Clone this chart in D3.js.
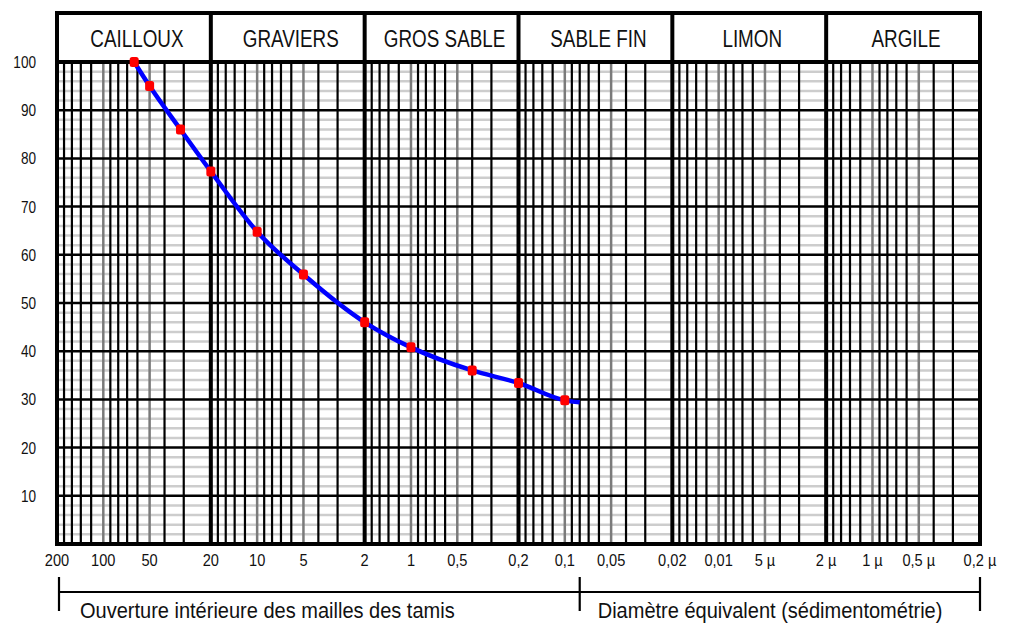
<!DOCTYPE html>
<html>
<head>
<meta charset="utf-8">
<script src="https://cdn.jsdelivr.net/npm/d3@7"></script>
<style>
  body { margin: 0; background: #fff; }
  svg { display: block; }
  text { font-family: "Liberation Sans", Arial, sans-serif; fill: #111; }
</style>
</head>
<body>
<svg id="chart"></svg>
<script>
// soil classes, one per decade of the sieve scale (mm)
const classes = ["CAILLOUX", "GRAVIERS", "GROS SABLE", "SABLE FIN", "LIMON", "ARGILE"];
const classBounds = [200, 20, 2, 0.2, 0.02, 0.002, 0.0002];

// sieve sizes (mm) and passing percentages
const sizes = [63, 50, 31.5, 20, 10, 5, 2, 1, 0.4, 0.2, 0.1];
const passing = [100, 95, 86, 77.3, 64.8, 55.9, 46, 40.8, 36, 33.4, 29.8];
const curveEnd = [0.08, 29.4];

// axis labels
const xTickValues = [200, 100, 50, 20, 10, 5, 2, 1, 0.5, 0.2, 0.1, 0.05, 0.02, 0.01, 0.005, 0.002, 0.001, 0.0005, 0.0002];
const xTickLabels = ["200", "100", "50", "20", "10", "5", "2", "1", "0,5", "0,2", "0,1", "0,05", "0,02", "0,01", "5 µ", "2 µ", "1 µ", "0,5 µ", "0,2 µ"];
const yTickValues = [10, 20, 30, 40, 50, 60, 70, 80, 90, 100];
const yMinorValues = [2, 4, 6, 8, 12, 14, 16, 18, 22, 24, 26, 28, 32, 34, 36, 38, 42, 44, 46, 48,
  52, 54, 56, 58, 62, 64, 66, 68, 72, 74, 76, 78, 82, 84, 86, 88, 92, 94, 96, 98];

// log-paper rulings inside each decade
const decades = [100, 10, 1, 0.1, 0.01, 0.001];
const blackMantissas = [1.8, 1.6, 1.4, 1.2, 0.9, 0.8, 0.7, 0.6, 0.4, 0.3];
const grayMantissas = [1, 0.5];

const sieveLimit = 0.08;
const sieveText = "Ouverture intérieure des mailles des tamis";
const sedimText = "Diamètre équivalent (sédimentométrie)";

const width = 1012, height = 625;
const svg = d3.select("#chart").attr("width", width).attr("height", height);

const x = d3.scaleLog().domain([200, 0.0002]).range([57, 980]);
const y = d3.scaleLinear().domain([0, 100]).range([544, 62]);
const headerTop = 13;

// narrow lettering: no condensed face installed, so squeeze horizontally
const place = (px, py, s) => `translate(${px},${py}) scale(${s},1)`;

const blackLines = decades.flatMap(d => blackMantissas.map(m => m * d));
const grayLines = decades.flatMap(d => grayMantissas.map(m => m * d));

const grid = svg.append("g");

// light horizontal rulings every 2 %
grid.selectAll(".hmin").data(yMinorValues).join("line")
    .attr("x1", x(200)).attr("x2", x(0.0002))
    .attr("y1", d => y(d)).attr("y2", d => y(d))
    .attr("stroke", "#cdcdcd").attr("stroke-width", 2.5);

grid.selectAll(".vgray").data(grayLines).join("line")
    .attr("x1", d => x(d)).attr("x2", d => x(d))
    .attr("y1", y(100)).attr("y2", y(0))
    .attr("stroke", "#7a7a7a").attr("stroke-width", 2.5);

grid.selectAll(".vblack").data(blackLines).join("line")
    .attr("x1", d => x(d)).attr("x2", d => x(d))
    .attr("y1", y(100)).attr("y2", y(0))
    .attr("stroke", "#000").attr("stroke-width", 2.2);

grid.selectAll(".hmaj").data(yTickValues).join("line")
    .attr("x1", x(200)).attr("x2", x(0.0002))
    .attr("y1", d => y(d)).attr("y2", d => y(d))
    .attr("stroke", "#000").attr("stroke-width", 2.5);

// decade boundaries go through the header too
grid.selectAll(".vbound").data(classBounds).join("line")
    .attr("x1", d => x(d)).attr("x2", d => x(d))
    .attr("y1", headerTop).attr("y2", y(0))
    .attr("stroke", "#000").attr("stroke-width", 4);

// header box
svg.append("rect")
    .attr("x", x(200)).attr("y", headerTop)
    .attr("width", x(0.0002) - x(200)).attr("height", y(0) - headerTop)
    .attr("fill", "none").attr("stroke", "#000").attr("stroke-width", 4);
svg.append("line")
    .attr("x1", x(200)).attr("x2", x(0.0002))
    .attr("y1", y(100)).attr("y2", y(100))
    .attr("stroke", "#000").attr("stroke-width", 4);

svg.append("g").selectAll("text").data(classes).join("text")
    .attr("transform", (d, i) => place((x(classBounds[i]) + x(classBounds[i + 1])) / 2 + 3, 47, 0.82))
    .attr("text-anchor", "middle")
    .attr("font-size", 23)
    .text(d => d);

// y labels
svg.append("g").selectAll("text").data(yTickValues).join("text")
    .attr("transform", d => place(36, y(d) + 6, 0.8))
    .attr("text-anchor", "end")
    .attr("font-size", 17)
    .text(d => d);

// x labels
svg.append("g").selectAll("text").data(xTickValues).join("text")
    .attr("transform", d => place(x(d), 566, 0.86))
    .attr("text-anchor", "middle")
    .attr("font-size", 17)
    .text((d, i) => xTickLabels[i]);

// grading curve
const pts = sizes.map((s, i) => [s, passing[i]]);
const line = d3.line()
    .x(d => x(d[0])).y(d => y(d[1]))
    .curve(d3.curveMonotoneX);

svg.append("path")
    .datum(pts.concat([curveEnd]))
    .attr("d", line)
    .attr("fill", "none")
    .attr("stroke", "#0000ff")
    .attr("stroke-width", 4.5);

svg.append("g").selectAll("rect").data(pts).join("rect")
    .attr("x", d => x(d[0]) - 4.5)
    .attr("y", d => y(d[1]) - 5)
    .attr("width", 9).attr("height", 10)
    .attr("rx", 2.5)
    .attr("fill", "#ff0000");

// bracket below the scale
const by = 592;
const bracket = svg.append("g").attr("stroke", "#000").attr("stroke-width", 2.2);
bracket.append("line")
    .attr("x1", x(200) + 2).attr("x2", x(0.0002))
    .attr("y1", by).attr("y2", by);
bracket.selectAll(".tick").data([200, sieveLimit, 0.0002]).join("line")
    .attr("x1", (d, i) => x(d) + (i === 0 ? 2 : 0)).attr("x2", (d, i) => x(d) + (i === 0 ? 2 : 0))
    .attr("y1", 577).attr("y2", 611);

svg.append("text")
    .attr("transform", place(80, 618, 0.91))
    .attr("font-size", 22)
    .text(sieveText);
svg.append("text")
    .attr("transform", place(x(sieveLimit) + 18, 618, 0.91))
    .attr("font-size", 22)
    .text(sedimText);
</script>
</body>
</html>
